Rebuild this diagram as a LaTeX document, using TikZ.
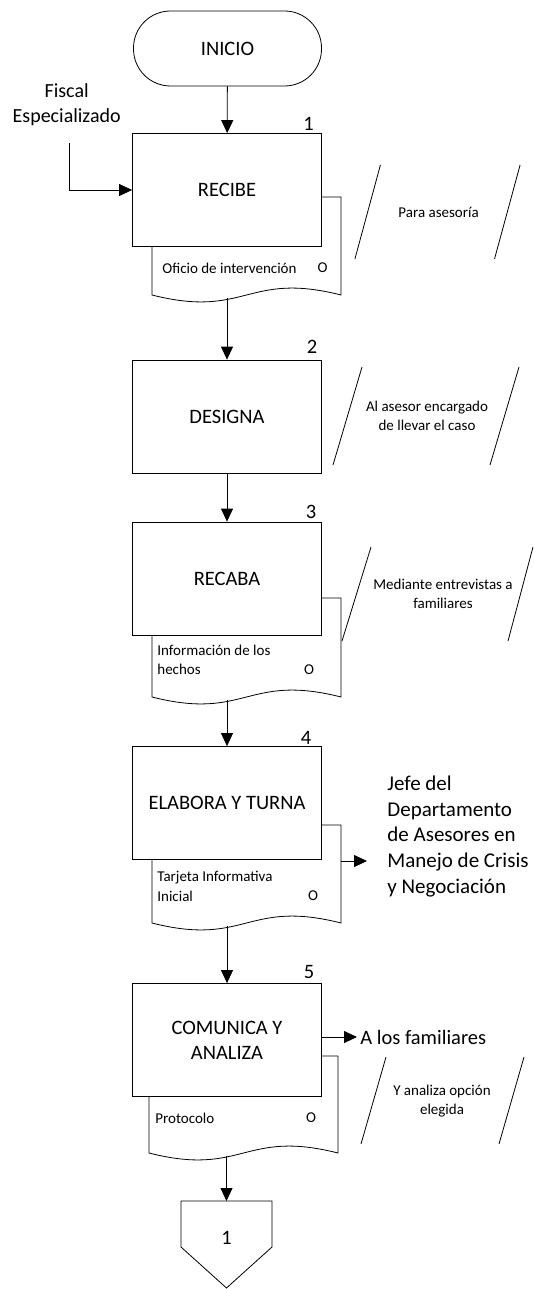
\documentclass[tikz,border=0pt]{standalone}
\usepackage{fontspec}
\setmainfont{Carlito}
\usetikzlibrary{arrows.meta}
\begin{document}
\begin{tikzpicture}[x=1pt,y=-1pt,line width=0.8pt,
  arr/.style={-{Triangle[length=13pt,width=12pt]}},
  box/.style={draw,fill=white,minimum width=189pt,minimum height=113pt,inner sep=0pt,align=center,font=\fontsize{20.5}{25}\selectfont},
  term/.style={draw,fill=white,rounded corners=37pt,minimum width=188pt,minimum height=75pt,inner sep=0pt,font=\fontsize{20.5}{25}\selectfont},
  docshape/.style={draw,fill=white},
  num/.style={inner sep=0pt,font=\fontsize{20.5}{25}\selectfont},
  small/.style={inner sep=0pt,font=\fontsize{15}{19.5}\selectfont},
  note/.style={inner sep=0pt,align=center,font=\fontsize{15}{19}\selectfont},
  big/.style={inner ysep=0pt,align=left,font=\fontsize{21}{25.7}\selectfont},
  slashline/.style={draw}]
\useasboundingbox (0,0) rectangle (534,1289);

% documents (behind the boxes)
\draw[docshape] (152,197) -- (341,197) -- (341,295) .. controls (246.5,271) and (246.5,319) .. coordinate[pos=0.6] (d1w) (152,295) -- cycle;
\draw[docshape] (152,598) -- (341,598) -- (341,697) .. controls (246.5,673) and (246.5,721) .. coordinate[pos=0.6] (d3w) (152,697) -- cycle;
\draw[docshape] (152,825) -- (341,825) -- (341,923) .. controls (246.5,899) and (246.5,947) .. coordinate[pos=0.6] (d4w) (152,923) -- cycle;
\draw[docshape] (149,1056) -- (338,1056) -- (338,1153) .. controls (243.5,1129) and (243.5,1177) .. coordinate[pos=0.6] (d5w) (149,1153) -- cycle;

% main nodes
\node[term] (ini) at (227.5,48.5) {INICIO};
\node[box] (r1) at (227,190) {RECIBE};
\node[box] (r2) at (227,416.5) {DESIGNA};
\node[box] (r3) at (227,578.5) {RECABA};
\node[box] (r4) at (227,803) {ELABORA Y TURNA};
\node[box] (r5) at (227,1040) {COMUNICA Y\\ANALIZA};

% step numbers
\node[num] (n1) at (308.5,124) {1};
\node[num] (n2) at (312,347) {2};
\node[num] (n3) at (311,512) {3};
\node[num] (n4) at (306,738) {4};
\node[num] (n5) at (309,972) {5};

% document texts
\node[small,anchor=west] (t1) at (162,268) {Oficio de intervención};
\node[small] (o1) at (322.5,268) {O};
\node[small,anchor=west,align=left] (t3) at (157,660) {Información de los\\hechos};
\node[small] (o3) at (309,670) {O};
\node[small,anchor=west,align=left] (t4) at (157,886.5) {Tarjeta Informativa\\Inicial};
\node[small] (o4) at (313,896) {O};
\node[small,anchor=west] (t5) at (155,1118) {Protocolo};
\node[small] (o5) at (311,1118) {O};

% annotation slashes
\draw[slashline] (380.4,165) -- (354.9,259);
\draw[slashline] (520.1,165) -- (494.5,259);
\node[note] (a1) at (438.6,212) {Para asesoría};
\draw[slashline] (362,367) -- (333,465);
\draw[slashline] (519,367) -- (490,465);
\node[note] (a2) at (427,416) {Al asesor encargado\\de llevar el caso};
\draw[slashline] (371,547) -- (342,641);
\draw[slashline] (533,547) -- (508,641);
\node[note] (a3) at (443,593.5) {Mediante entrevistas a\\familiares};
\draw[slashline] (386,1057) -- (361,1144);
\draw[slashline] (524,1057) -- (499,1144);
\node[note] (a5) at (442,1101.5) {Y analiza opción\\elegida};

% side texts
\node[inner sep=0pt,align=center,font=\fontsize{20}{25.5}\selectfont] (fis) at (66.7,104.5) {Fiscal\\Especializado};
\coordinate (fisc) at (69.3,143.3);
\node[big,anchor=west,inner xsep=20pt] (jefe) at (367,836.5) {Jefe del\\Departamento\\de Asesores en\\Manejo de Crisis\\y Negociación};
\coordinate (d4r) at (341,861);
\node[anchor=west,inner xsep=3pt,inner ysep=0pt,font=\fontsize{20.5}{25}\selectfont] (fam) at (357,1037) {A los familiares};
\coordinate (r5r) at (321,1037);

% off-page connector
\draw[fill=white] (181,1201) -- (272,1201) -- (272,1247) -- (226.5,1288) -- (181,1247) -- cycle;
\node[num] (off) at (226.5,1238) {1};
\coordinate (offtop) at (226.5,1201);

% connectors
\draw[arr] (ini) -- (r1);
\draw[arr] (fisc) |- (r1.west);
\draw[arr] (r2.north |- d1w) -- (r2.north);
\draw[arr] (r2) -- (r3);
\draw[arr] (r4.north |- d3w) -- (r4.north);
\draw[arr] (d4r) -- (jefe.west |- d4r);
\draw[arr] (r5.north |- d4w) -- (r5.north);
\draw[arr] (r5r) -- (fam.west |- r5r);
\draw[arr] (offtop |- d5w) -- (offtop);
\end{tikzpicture}
\end{document}
